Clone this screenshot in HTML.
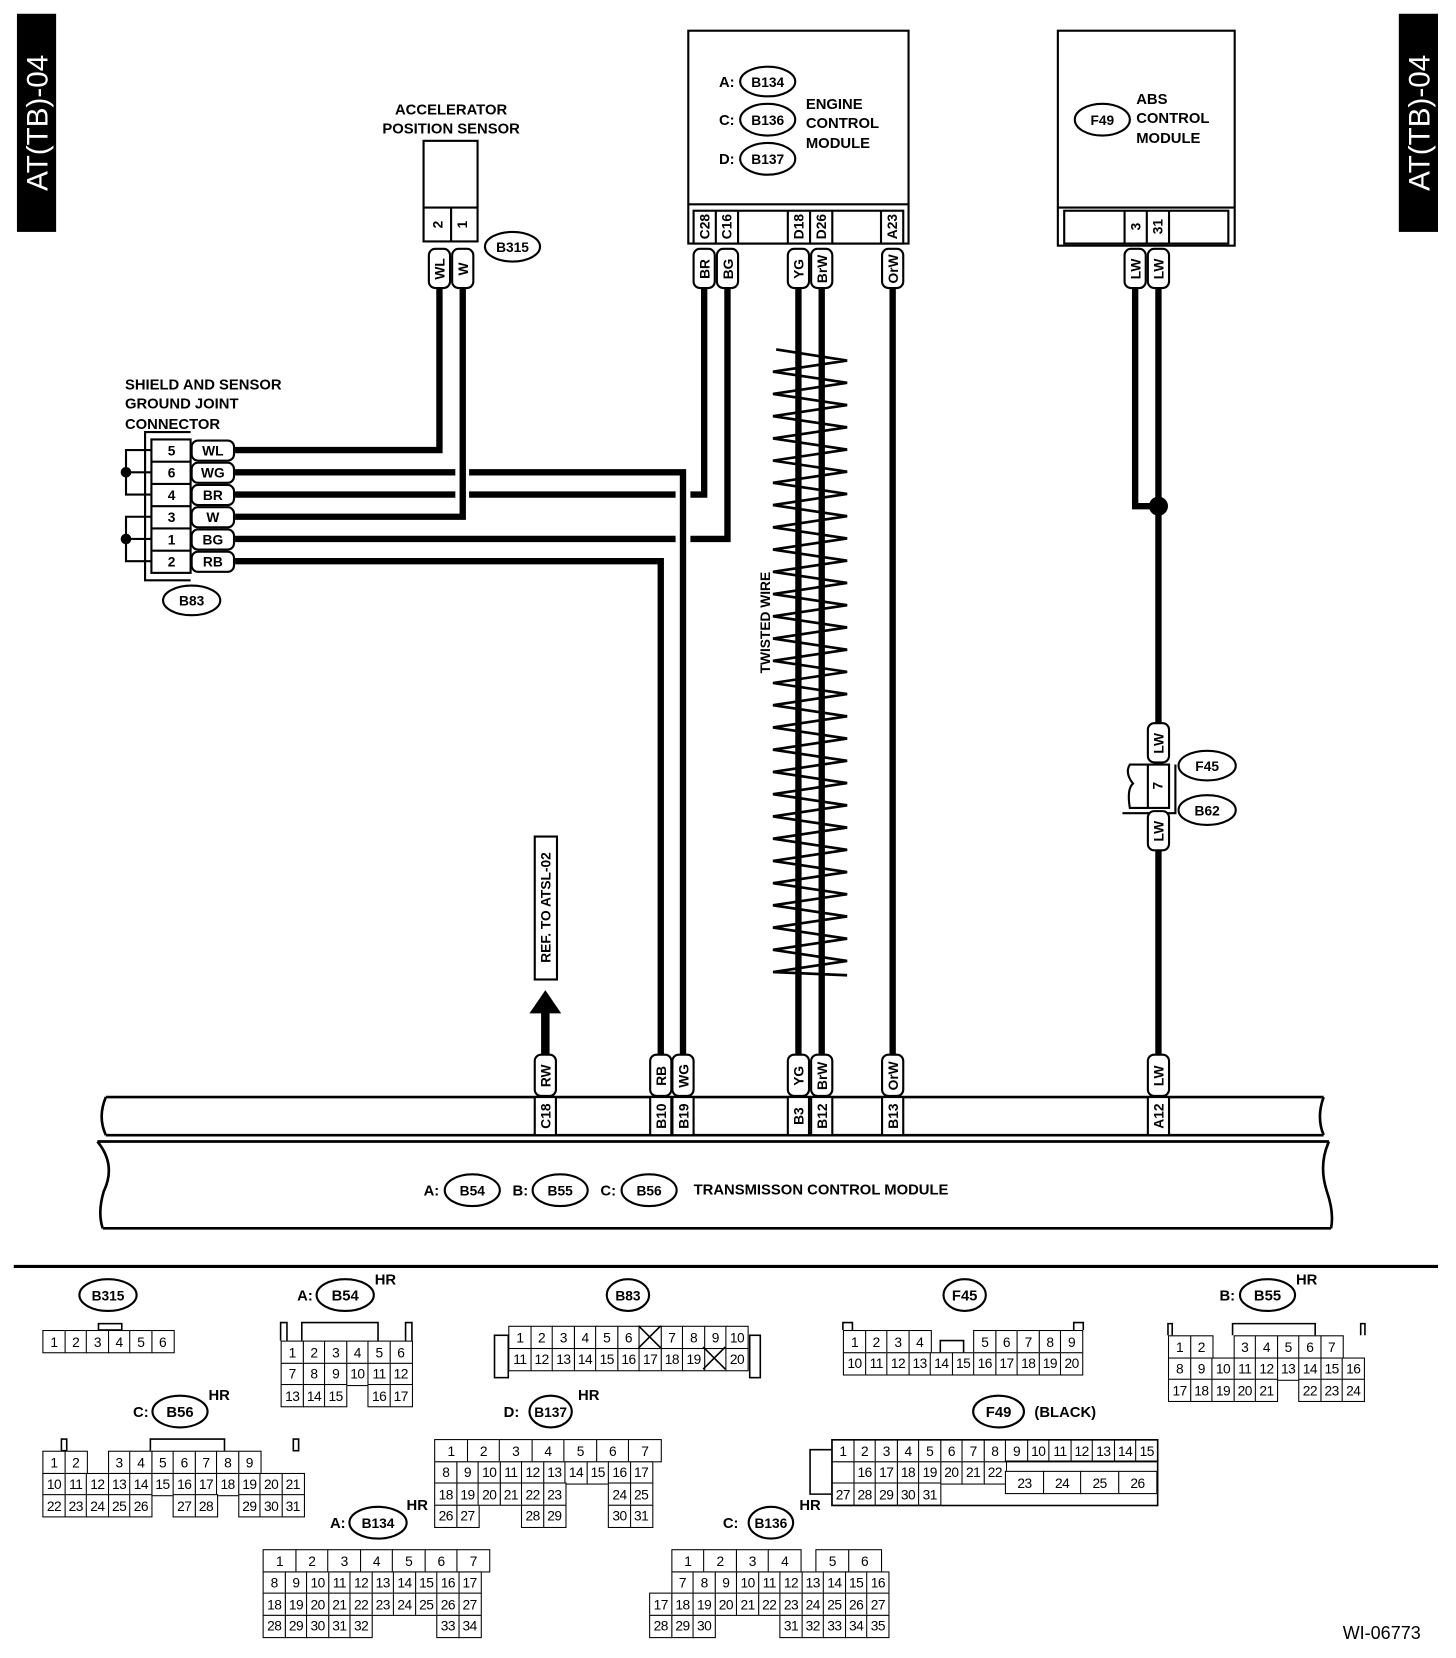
<!DOCTYPE html>
<html><head><meta charset="utf-8">
<style>
html,body{margin:0;padding:0;background:#fff;}
#wrap{position:relative;width:1375px;height:1566px;transform:scale(1.05891);transform-origin:0 0;overflow:hidden;font-family:"Liberation Sans",sans-serif;}
svg{position:absolute;left:0;top:0;}
svg text{font-family:"Liberation Sans",sans-serif;font-weight:bold;}
.c{position:absolute;}
.r{display:flex;}
.r i{font-style:normal;display:flex;align-items:center;justify-content:center;border:1.5px solid #000;box-sizing:border-box;width:22px;height:22px;margin:0 -1.5px -1.5px 0;font-size:13px;color:#000;background:#fff;letter-spacing:-0.5px;}
.r i.e{border-color:transparent;background:transparent;}
</style></head><body>
<div id="wrap">
<svg width="1375" height="1566" viewBox="0 0 1375 1566">
<rect x="16" y="13" width="37" height="206" fill="#000"/>
<rect x="1321" y="13" width="37" height="206" fill="#000"/>
<text transform="translate(45,116) rotate(-90)" text-anchor="middle" font-size="28" fill="#fff" style="font-weight:normal">AT(TB)-04</text>
<text transform="translate(1350,116) rotate(-90)" text-anchor="middle" font-size="28" fill="#fff" style="font-weight:normal">AT(TB)-04</text>

<!-- APS -->
<text x="426" y="108" font-size="14" text-anchor="middle">ACCELERATOR</text>
<text x="426" y="126" font-size="14" text-anchor="middle">POSITION SENSOR</text>
<g fill="none" stroke="#000" stroke-width="2">
<rect x="400" y="133" width="51" height="95"/>
<line x1="400" y1="196" x2="451" y2="196"/>
<line x1="426" y1="196" x2="426" y2="228"/>
</g>
<text transform="translate(418,212) rotate(-90)" font-size="13" text-anchor="middle">2</text>
<text transform="translate(441,212) rotate(-90)" font-size="13" text-anchor="middle">1</text>
<ellipse cx="484" cy="233" rx="26" ry="14" fill="#fff" stroke="#000" stroke-width="2"/>
<text x="484" y="238" font-size="13" text-anchor="middle">B315</text>

<!-- wires -->
<g fill="none" stroke="#000" stroke-width="6" stroke-linejoin="miter">
<polyline points="415,272 415,425 222,425"/>
<polyline points="437,272 437,488 222,488"/>
<polyline points="222,446 430,446"/>
<polyline points="443,446 645,446 645,996"/>
<polyline points="222,467 430,467"/>
<polyline points="443,467 638,467"/>
<polyline points="652,467 665,467 665,272"/>
<polyline points="222,509 638,509"/>
<polyline points="652,509 687,509 687,272"/>
<polyline points="222,530 624,530 624,996"/>
<line x1="754" y1="272" x2="754" y2="996"/>
<line x1="776" y1="272" x2="776" y2="996"/>
<line x1="843" y1="272" x2="843" y2="996"/>
<polyline points="1072,272 1072,478 1094,478"/>
<line x1="1094" y1="272" x2="1094" y2="684"/>
<line x1="1094" y1="802" x2="1094" y2="996"/>
<line x1="515" y1="955" x2="515" y2="996" stroke-width="8"/>
</g>
<circle cx="1094" cy="478" r="9" fill="#000"/>
<polygon points="515,935 500,957 530,957" fill="#000"/>

<!-- twisted wire -->
<polyline fill="none" stroke="#000" stroke-width="2.5" points="733,330 800,340.5 730,351 800,361.5 730,372 800,382.5 730,393 800,403.5 730,414 800,424.5 730,435 800,445.5 730,456 800,466.5 730,477 800,487.5 730,498 800,508.5 730,519 800,529.5 730,540 800,550.5 730,561 800,571.5 730,582 800,592.5 730,603 800,613.5 730,624 800,634.5 730,645 800,655.5 730,666 800,676.5 730,687 800,697.5 730,708 800,718.5 730,729 800,739.5 730,750 800,760.5 730,771 800,781.5 730,792 800,802.5 730,813 800,823.5 730,834 800,844.5 730,855 800,865.5 730,876 800,886.5 730,897 800,907.5 730,918 800,921"/>
<text transform="translate(727,588) rotate(-90)" font-size="13" text-anchor="middle">TWISTED WIRE</text>

<!-- ground joint connector -->
<text x="118" y="368" font-size="14">SHIELD AND SENSOR</text>
<text x="118" y="386" font-size="14">GROUND JOINT</text>
<text x="118" y="405" font-size="14">CONNECTOR</text>
<g fill="none" stroke="#000" stroke-width="2">
<polyline points="180,408 137,408 137,548 180,548"/>
<rect x="143" y="415" width="37" height="126"/>
<line x1="143" y1="436" x2="180" y2="436"/><line x1="143" y1="457" x2="180" y2="457"/>
<line x1="143" y1="478" x2="180" y2="478"/><line x1="143" y1="499" x2="180" y2="499"/>
<line x1="143" y1="520" x2="180" y2="520"/>
<polyline points="143,425 119,425 119,467 143,467"/><line x1="119" y1="446" x2="143" y2="446"/>
<polyline points="143,488 119,488 119,530 143,530"/><line x1="119" y1="509" x2="143" y2="509"/>
</g>
<circle cx="119" cy="446" r="5" fill="#000"/><circle cx="119" cy="509" r="5" fill="#000"/>
<g font-size="13" text-anchor="middle">
<text x="162" y="430">5</text><text x="162" y="451">6</text><text x="162" y="472">4</text>
<text x="162" y="493">3</text><text x="162" y="514">1</text><text x="162" y="535">2</text>
</g>
<g fill="#fff" stroke="#000" stroke-width="2">
<rect x="181" y="416" width="40" height="19" rx="6"/><rect x="181" y="437" width="40" height="19" rx="6"/>
<rect x="181" y="458" width="40" height="19" rx="6"/><rect x="181" y="479" width="40" height="19" rx="6"/>
<rect x="181" y="500" width="40" height="19" rx="6"/><rect x="181" y="521" width="40" height="19" rx="6"/>
</g>
<g font-size="13" text-anchor="middle">
<text x="201" y="430">WL</text><text x="201" y="451">WG</text><text x="201" y="472">BR</text>
<text x="201" y="493">W</text><text x="201" y="514">BG</text><text x="201" y="535">RB</text>
</g>
<ellipse cx="181" cy="567" rx="27" ry="14" fill="#fff" stroke="#000" stroke-width="2"/>
<text x="181" y="572" font-size="13" text-anchor="middle">B83</text>

<!-- ECM -->
<g fill="none" stroke="#000" stroke-width="2">
<rect x="650" y="29" width="208" height="201"/>
<line x1="650" y1="193" x2="858" y2="193"/>
<rect x="655" y="199" width="198" height="31"/>
<line x1="676" y1="199" x2="676" y2="230"/><line x1="697" y1="199" x2="697" y2="230"/>
<line x1="744" y1="199" x2="744" y2="230"/><line x1="765" y1="199" x2="765" y2="230"/>
<line x1="786" y1="199" x2="786" y2="230"/><line x1="832" y1="199" x2="832" y2="230"/>
</g>
<g font-size="13" text-anchor="middle">
<text transform="translate(670,214) rotate(-90)">C28</text>
<text transform="translate(691,214) rotate(-90)">C16</text>
<text transform="translate(759,214) rotate(-90)">D18</text>
<text transform="translate(780,214) rotate(-90)">D26</text>
<text transform="translate(847,214) rotate(-90)">A23</text>
</g>
<g fill="#fff" stroke="#000" stroke-width="2">
<ellipse cx="725" cy="77" rx="26" ry="14"/><ellipse cx="725" cy="113" rx="26" ry="15"/><ellipse cx="725" cy="150" rx="26" ry="15"/>
</g>
<g font-size="14">
<text x="679" y="82">A:</text><text x="679" y="118">C:</text><text x="679" y="155">D:</text>
<text x="725" y="82" text-anchor="middle" font-size="13">B134</text>
<text x="725" y="118" text-anchor="middle" font-size="13">B136</text>
<text x="725" y="155" text-anchor="middle" font-size="13">B137</text>
<text x="761" y="103">ENGINE</text><text x="761" y="121">CONTROL</text><text x="761" y="140">MODULE</text>
</g>

<!-- ABS -->
<g fill="none" stroke="#000" stroke-width="2">
<rect x="999" y="29" width="167" height="203"/>
<line x1="999" y1="196" x2="1166" y2="196"/>
<rect x="1005" y="199" width="155" height="31"/>
<line x1="1062" y1="199" x2="1062" y2="230"/><line x1="1083" y1="199" x2="1083" y2="230"/><line x1="1104" y1="199" x2="1104" y2="230"/>
</g>
<g font-size="13" text-anchor="middle">
<text transform="translate(1077,214) rotate(-90)">3</text>
<text transform="translate(1098,214) rotate(-90)">31</text>
</g>
<ellipse cx="1041" cy="113" rx="26" ry="15" fill="#fff" stroke="#000" stroke-width="2"/>
<text x="1041" y="118" font-size="13" text-anchor="middle">F49</text>
<g font-size="14"><text x="1073" y="98">ABS</text><text x="1073" y="116">CONTROL</text><text x="1073" y="135">MODULE</text></g>

<!-- F45/B62 -->
<g fill="none" stroke="#000" stroke-width="2">
<path d="M1067,722 L1104,722 L1104,763 L1067,763 Q1064,745 1070,740 Q1062,730 1067,722 Z" fill="#fff"/>
<line x1="1084" y1="722" x2="1084" y2="763"/>
<polyline points="1110,722 1110,768 1060,768"/>
</g>
<text transform="translate(1098,742) rotate(-90)" font-size="13" text-anchor="middle">7</text>
<g fill="#fff" stroke="#000" stroke-width="2"><ellipse cx="1140" cy="723" rx="27" ry="14"/><ellipse cx="1140" cy="765" rx="27" ry="14"/></g>
<text x="1140" y="728" font-size="13" text-anchor="middle">F45</text>
<text x="1140" y="770" font-size="13" text-anchor="middle">B62</text>

<!-- wire tags -->
<g fill="#fff" stroke="#000" stroke-width="2">
<rect x="405" y="235" width="20" height="37" rx="6"/><rect x="427" y="235" width="20" height="37" rx="6"/>
<rect x="655" y="235" width="20" height="37" rx="6"/><rect x="677" y="235" width="20" height="37" rx="6"/>
<rect x="744" y="235" width="20" height="37" rx="6"/><rect x="766" y="235" width="20" height="37" rx="6"/>
<rect x="833" y="235" width="20" height="37" rx="6"/>
<rect x="1062" y="235" width="20" height="37" rx="6"/><rect x="1084" y="235" width="20" height="37" rx="6"/>
<rect x="1084" y="683" width="20" height="37" rx="6"/><rect x="1084" y="766" width="20" height="37" rx="6"/>
<rect x="505" y="996" width="20" height="39" rx="6"/>
<rect x="614" y="996" width="20" height="39" rx="6"/><rect x="635" y="996" width="20" height="39" rx="6"/>
<rect x="744" y="996" width="20" height="39" rx="6"/><rect x="766" y="996" width="20" height="39" rx="6"/>
<rect x="833" y="996" width="20" height="39" rx="6"/><rect x="1084" y="996" width="20" height="39" rx="6"/>
<rect x="505" y="790" width="21" height="135"/>
</g>
<g font-size="13" text-anchor="middle">
<text transform="translate(420,254) rotate(-90)">WL</text><text transform="translate(442,254) rotate(-90)">W</text>
<text transform="translate(670,254) rotate(-90)">BR</text><text transform="translate(692,254) rotate(-90)">BG</text>
<text transform="translate(759,254) rotate(-90)">YG</text><text transform="translate(781,254) rotate(-90)">BrW</text>
<text transform="translate(848,254) rotate(-90)">OrW</text>
<text transform="translate(1077,254) rotate(-90)">LW</text><text transform="translate(1099,254) rotate(-90)">LW</text>
<text transform="translate(1099,702) rotate(-90)">LW</text><text transform="translate(1099,785) rotate(-90)">LW</text>
<text transform="translate(520,1016) rotate(-90)">RW</text>
<text transform="translate(629,1016) rotate(-90)">RB</text><text transform="translate(650,1016) rotate(-90)">WG</text>
<text transform="translate(759,1016) rotate(-90)">YG</text><text transform="translate(781,1016) rotate(-90)">BrW</text>
<text transform="translate(848,1016) rotate(-90)">OrW</text><text transform="translate(1099,1016) rotate(-90)">LW</text>
<text transform="translate(520,857) rotate(-90)">REF. TO ATSL-02</text>
</g>

<!-- TCM -->
<g fill="none" stroke="#000" stroke-width="2.5">
<path d="M100,1036 L1250,1036"/>
<path d="M100,1072 L1250,1072"/>
<path d="M92,1078 L1255,1078"/>
<path d="M97,1160 L1257,1160"/>
<path d="M100,1036 Q92,1055 100,1072"/>
<path d="M1250,1036 Q1243,1055 1250,1072"/>
<path d="M92,1078 Q110,1100 98,1125 Q92,1145 97,1160"/>
<path d="M1255,1078 Q1245,1100 1253,1125 Q1260,1145 1257,1160"/>
</g>
<g fill="#fff" stroke="#000" stroke-width="2">
<rect x="505" y="1036" width="20" height="36"/>
<rect x="614" y="1036" width="20" height="36"/><rect x="635" y="1036" width="20" height="36"/>
<rect x="744" y="1036" width="20" height="36"/><rect x="766" y="1036" width="20" height="36"/>
<rect x="833" y="1036" width="20" height="36"/><rect x="1084" y="1036" width="20" height="36"/>
</g>
<g font-size="13" text-anchor="middle">
<text transform="translate(520,1054) rotate(-90)">C18</text>
<text transform="translate(629,1054) rotate(-90)">B10</text><text transform="translate(650,1054) rotate(-90)">B19</text>
<text transform="translate(759,1054) rotate(-90)">B3</text><text transform="translate(781,1054) rotate(-90)">B12</text>
<text transform="translate(848,1054) rotate(-90)">B13</text><text transform="translate(1099,1054) rotate(-90)">A12</text>
</g>
<g fill="#fff" stroke="#000" stroke-width="2">
<ellipse cx="446" cy="1124" rx="26" ry="15"/><ellipse cx="529" cy="1124" rx="26" ry="15"/><ellipse cx="613" cy="1124" rx="26" ry="15"/>
</g>
<g font-size="14">
<text x="400" y="1129">A:</text><text x="484" y="1129">B:</text><text x="567" y="1129">C:</text>
<text x="446" y="1129" text-anchor="middle" font-size="13">B54</text>
<text x="529" y="1129" text-anchor="middle" font-size="13">B55</text>
<text x="613" y="1129" text-anchor="middle" font-size="13">B56</text>
<text x="655" y="1128">TRANSMISSON CONTROL MODULE</text>
</g>

<line x1="13" y1="1196" x2="1358" y2="1196" stroke="#000" stroke-width="3"/>

<!-- bottom connector labels -->
<g fill="#fff" stroke="#000" stroke-width="2">
<ellipse cx="102" cy="1223" rx="27" ry="15"/><ellipse cx="326" cy="1223" rx="27" ry="15"/>
<ellipse cx="593" cy="1223" rx="20" ry="15"/><ellipse cx="911" cy="1223" rx="20" ry="15"/>
<ellipse cx="1197" cy="1223" rx="26" ry="15"/><ellipse cx="170" cy="1333" rx="26" ry="15"/>
<ellipse cx="520" cy="1333" rx="20" ry="15"/><ellipse cx="943" cy="1333" rx="24" ry="15"/>
<ellipse cx="357" cy="1438" rx="27" ry="15"/><ellipse cx="728" cy="1438" rx="21" ry="15"/>
</g>
<g font-size="14" text-anchor="middle">
<text x="102" y="1228" font-size="13">B315</text>
<text x="326" y="1228">B54</text><text x="288" y="1228">A:</text><text x="364" y="1213">HR</text>
<text x="593" y="1228" font-size="13">B83</text>
<text x="911" y="1228">F45</text>
<text x="1197" y="1228">B55</text><text x="1159" y="1228">B:</text><text x="1234" y="1213">HR</text>
<text x="170" y="1338">B56</text><text x="133" y="1338">C:</text><text x="207" y="1322">HR</text>
<text x="520" y="1338" font-size="13">B137</text><text x="483" y="1338">D:</text><text x="556" y="1322">HR</text>
<text x="943" y="1338">F49</text><text x="1006" y="1338">(BLACK)</text>
<text x="357" y="1443" font-size="13">B134</text><text x="319" y="1443">A:</text><text x="394" y="1426">HR</text>
<text x="728" y="1443" font-size="13">B136</text><text x="690" y="1443">C:</text><text x="765" y="1426">HR</text>
</g>
<text x="1268" y="1548" font-size="17" style="font-weight:normal">WI-06773</text>
</svg>

<!-- B315 -->
<div class="c" style="left:40px;top:1256px"><div class="r"><i>1</i><i>2</i><i>3</i><i>4</i><i>5</i><i>6</i></div></div>
<!-- B54 -->
<div class="c" style="left:265px;top:1266px">
<div class="r"><i>1</i><i>2</i><i>3</i><i>4</i><i>5</i><i>6</i></div>
<div class="r"><i>7</i><i>8</i><i>9</i><i>10</i><i>11</i><i>12</i></div>
<div class="r"><i>13</i><i>14</i><i>15</i><i class="e"></i><i>16</i><i>17</i></div></div>
<!-- B83 -->
<div class="c" style="left:480px;top:1252px">
<div class="r"><i>1</i><i>2</i><i>3</i><i>4</i><i>5</i><i>6</i><i></i><i>7</i><i>8</i><i>9</i><i>10</i></div>
<div class="r"><i>11</i><i>12</i><i>13</i><i>14</i><i>15</i><i>16</i><i>17</i><i>18</i><i>19</i><i></i><i>20</i></div></div>
<!-- F45 -->
<div class="c" style="left:796px;top:1256px">
<div class="r"><i>1</i><i>2</i><i>3</i><i>4</i><i class="e"></i><i class="e"></i><i>5</i><i>6</i><i>7</i><i>8</i><i>9</i></div>
<div class="r"><i>10</i><i>11</i><i>12</i><i>13</i><i>14</i><i>15</i><i>16</i><i>17</i><i>18</i><i>19</i><i>20</i></div></div>
<!-- B55 -->
<div class="c" style="left:1103px;top:1261px">
<div class="r"><i>1</i><i>2</i><i class="e"></i><i>3</i><i>4</i><i>5</i><i>6</i><i>7</i></div>
<div class="r"><i>8</i><i>9</i><i>10</i><i>11</i><i>12</i><i>13</i><i>14</i><i>15</i><i>16</i></div>
<div class="r"><i>17</i><i>18</i><i>19</i><i>20</i><i>21</i><i class="e"></i><i>22</i><i>23</i><i>24</i></div></div>
<!-- B56 -->
<div class="c" style="left:40px;top:1370px">
<div class="r"><i>1</i><i>2</i><i class="e"></i><i>3</i><i>4</i><i>5</i><i>6</i><i>7</i><i>8</i><i>9</i></div>
<div class="r"><i>10</i><i>11</i><i>12</i><i>13</i><i>14</i><i>15</i><i>16</i><i>17</i><i>18</i><i>19</i><i>20</i><i>21</i></div>
<div class="r"><i>22</i><i>23</i><i>24</i><i>25</i><i>26</i><i class="e"></i><i>27</i><i>28</i><i class="e"></i><i>29</i><i>30</i><i>31</i></div></div>
<!-- B137 -->
<div class="c" style="left:410px;top:1359px">
<div class="r"><i style="width:32px">1</i><i style="width:32px">2</i><i style="width:32px">3</i><i style="width:32px">4</i><i style="width:32px">5</i><i style="width:32px">6</i><i style="width:32px">7</i></div>
<div class="r"><i>8</i><i>9</i><i>10</i><i>11</i><i>12</i><i>13</i><i>14</i><i>15</i><i>16</i><i>17</i></div>
<div class="r"><i>18</i><i>19</i><i>20</i><i>21</i><i>22</i><i>23</i><i class="e"></i><i class="e"></i><i>24</i><i>25</i></div>
<div class="r"><i class="e"></i><i class="e"></i><i class="e"></i><i class="e"></i><i>28</i><i>29</i><i class="e"></i><i class="e"></i><i>30</i><i>31</i></div></div>
<div class="c" style="left:410px;top:1420.5px"><div class="r"><i>26</i><i>27</i></div></div>
<!-- F49 -->
<div class="c" style="left:785px;top:1359px">
<div class="r"><i>1</i><i>2</i><i>3</i><i>4</i><i>5</i><i>6</i><i>7</i><i>8</i><i>9</i><i>10</i><i>11</i><i>12</i><i>13</i><i>14</i><i>15</i></div>
<div class="r"><i></i><i>16</i><i>17</i><i>18</i><i>19</i><i>20</i><i>21</i><i>22</i></div>
<div class="r"><i>27</i><i>28</i><i>29</i><i>30</i><i>31</i></div></div>
<div class="c" style="left:949px;top:1389px"><div class="r"><i style="width:37px">23</i><i style="width:37px">24</i><i style="width:37px">25</i><i style="width:37.5px">26</i></div></div>
<!-- B134 -->
<div class="c" style="left:248px;top:1463px">
<div class="r"><i style="width:32px">1</i><i style="width:32px">2</i><i style="width:32px">3</i><i style="width:32px">4</i><i style="width:32px">5</i><i style="width:32px">6</i><i style="width:32px">7</i></div>
<div class="r"><i>8</i><i>9</i><i>10</i><i>11</i><i>12</i><i>13</i><i>14</i><i>15</i><i>16</i><i>17</i></div>
<div class="r"><i>18</i><i>19</i><i>20</i><i>21</i><i>22</i><i>23</i><i>24</i><i>25</i><i>26</i><i>27</i></div>
<div class="r"><i>28</i><i>29</i><i>30</i><i>31</i><i>32</i><i class="e"></i><i class="e"></i><i class="e"></i><i>33</i><i>34</i></div></div>
<!-- B136 -->
<div class="c" style="left:613px;top:1463px">
<div class="r"><i class="e"></i><i style="width:32px">1</i><i style="width:32px">2</i><i style="width:32px">3</i><i style="width:32px">4</i><i class="e" style="width:16px"></i><i style="width:32px">5</i><i style="width:32px">6</i></div>
<div class="r"><i class="e"></i><i>7</i><i>8</i><i>9</i><i>10</i><i>11</i><i>12</i><i>13</i><i>14</i><i>15</i><i>16</i></div>
<div class="r"><i>17</i><i>18</i><i>19</i><i>20</i><i>21</i><i>22</i><i>23</i><i>24</i><i>25</i><i>26</i><i>27</i></div>
<div class="r"><i>28</i><i>29</i><i>30</i><i class="e"></i><i class="e"></i><i class="e"></i><i>31</i><i>32</i><i>33</i><i>34</i><i>35</i></div></div>

<!-- overlay decorations -->
<svg width="1375" height="1566" viewBox="0 0 1375 1566">
<g fill="none" stroke="#000" stroke-width="1.5">
<rect x="93" y="1250" width="22" height="6"/>
<polyline points="265,1266 265,1249 271,1249 271,1266"/><polyline points="383,1266 383,1249 389,1249 389,1266"/>
<polyline points="285,1266 285,1249 357,1249 357,1266"/>
<rect x="467" y="1261" width="13" height="40"/><rect x="708" y="1261" width="10" height="40"/>
<polyline points="796,1256 796,1249 805,1249 805,1256"/><polyline points="1014,1256 1014,1249 1023,1249 1023,1256"/>
<polyline points="888,1277 888,1266 910,1266 910,1277"/>
<polyline points="1103,1261 1103,1250 1107,1250 1107,1261"/><polyline points="1285,1261 1285,1250 1289,1250 1289,1261"/>
<polyline points="1164,1261 1164,1250 1242,1250 1242,1261"/>
<rect x="58" y="1359" width="5" height="11"/><rect x="277" y="1359" width="5" height="11"/>
<polyline points="142,1370 142,1359 212,1359 212,1370"/>
<polyline points="785,1369 765,1369 765,1411 785,1411"/>
<line x1="603" y1="1252" x2="624" y2="1273"/><line x1="624" y1="1252" x2="603" y2="1273"/>
<line x1="664" y1="1272" x2="685" y2="1293"/><line x1="685" y1="1272" x2="664" y2="1293"/>
<rect x="785.75" y="1359.75" width="307.5" height="62" stroke-width="1.5"/>
<polyline points="949,1380 1093,1380"/>
</g>
</svg>
</div>
</body></html>
